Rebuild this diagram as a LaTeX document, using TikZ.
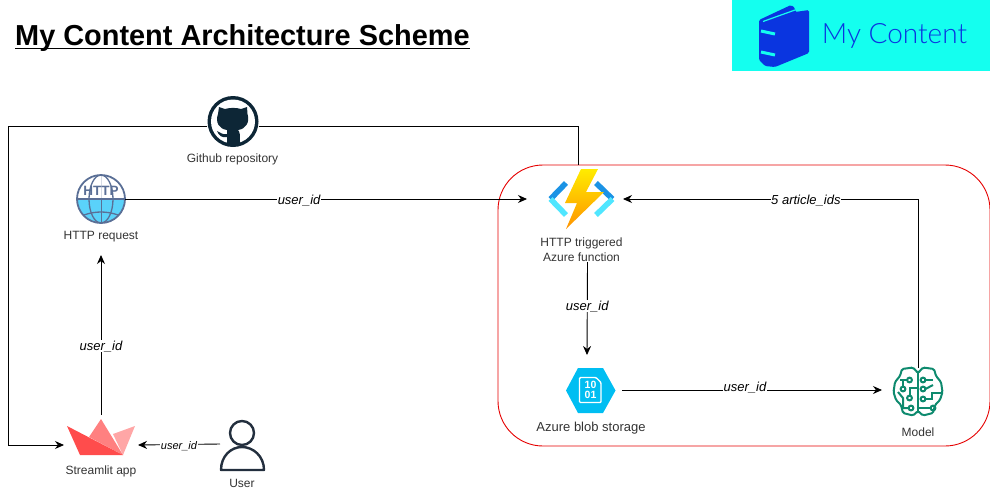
\documentclass[tikz,border=0pt]{standalone}
\usepackage{fontspec}
\setmainfont{Liberation Sans}
\newfontfamily\logofont{Lato Light}
\definecolor{logocyan}{HTML}{14FFEF}
\definecolor{logoblue}{HTML}{0A35E0}
\definecolor{gitnavy}{HTML}{0D2636}
\definecolor{httpslate}{HTML}{5A6F96}
\definecolor{httpsky}{HTML}{5AD2FA}
\definecolor{funcdark}{HTML}{1B93E5}
\definecolor{funclight}{HTML}{50E6FF}
\definecolor{blobblue}{HTML}{00BEF2}
\definecolor{modelteal}{HTML}{0E8A6E}
\definecolor{userink}{HTML}{232F3E}
\definecolor{labelgrey}{HTML}{333333}
\usetikzlibrary{positioning,arrows.meta,calc}

\begin{document}
\begin{tikzpicture}[
  x=1pt, y=-1pt,
  font=\fontsize{12}{14}\selectfont,
  icon/.style={inner sep=0pt, outer sep=0pt},
  lbl/.style={text=labelgrey, align=center, inner sep=0pt, font=\fontsize{12}{15}\selectfont},
  arr/.style={-{Stealth[length=9pt,width=8pt]}, line width=0.9pt, color=black},
  lin/.style={line width=0.9pt, color=black},
  edgelab/.style={font=\fontsize{13}{14}\selectfont\itshape, fill=white, inner sep=0.5pt, yshift=-1.5pt},
]
  \useasboundingbox (0,0) rectangle (990,491);

  % heading and logo
  \node[anchor=base west, inner sep=0pt, font=\fontsize{28.9}{32}\selectfont\bfseries] (title) at (15,45.5) {My Content Architecture Scheme};
  \draw[line width=1.5pt] ([yshift=-2.8pt]title.base west) -- ([yshift=-2.8pt]title.base east);
  \fill[logocyan] (732,0) rectangle (990,71);
  \fill[logoblue, rounded corners=1.5pt] (759,20) -- (791,5) -- (795,8) -- (795,12) -- (809,10) -- (809,53) -- (775,67) -- (765,66) -- (759,60) -- cycle;
  \draw[logocyan, line width=1.2pt] (763,21.5) -- (795,10);
  \draw[logocyan, line width=3pt] (761,31) -- (775,34);
  \draw[logocyan, line width=3pt] (761,52) -- (775,55);
  \node[icon, text=logoblue, font=\fontsize{28}{32}\selectfont\logofont] (logotext) at (894.5,36) {My Content};

  % red group
  \draw[red!90!black, line width=0.9pt, rounded corners=45pt] (498,165) rectangle (990,446);

  % icon nodes
  \node[icon, minimum size=52pt] (github) at (233,121.5) {};
  \node[icon, minimum width=48pt, minimum height=112pt] (http) at (101,199) {};
  \node[icon, minimum width=96pt, minimum height=68pt] (function) at (575,199) {};
  \node[icon, minimum width=62pt, minimum height=70pt] (blob) at (591,390) {};
  \node[icon, minimum width=72pt, minimum height=44pt] (model) at (918,390) {};
  \node[icon, minimum width=74pt, minimum height=60pt] (streamlit) at (101,445) {};
  \node[icon, minimum width=44pt, minimum height=50pt] (user) at (242,444) {};
  \coordinate (gitcorner) at (8,126.5);

  % labels
  \node[lbl] (githublabel) at (232.5,159) {Github repository};
  \node[lbl] (httplabel) at (101,236.5) {HTTP request};
  \node[lbl] (functionlabel) at (581.5,250) {HTTP triggered\\Azure function};
  \node[lbl, font=\fontsize{13}{15}\selectfont] (bloblabel) at (591,428) {Azure blob storage};
  \node[lbl] (modellabel) at (918,432) {Model};
  \node[lbl] (streamlitlabel) at (101,471) {Streamlit app};
  \node[lbl] (userlabel) at (242,483) {User};

  % github
  \fill[gitnavy] (github) circle (25.5);
  \fill[white] (github) circle (22);
  \fill[gitnavy] (219,107) -- (225,109) .. controls (230,107.5) and (236,107.5) .. (241,109) -- (247,107) -- (247.5,114)
    .. controls (250,122) and (246,129) .. (238,130) .. controls (240,132) and (240,134) .. (240,145)
    -- (227,145) -- (227,137) .. controls (222,138) and (219,136) .. (217,131) .. controls (220,132) and (222,135) .. (227,134)
    -- (227,130) .. controls (219,129) and (215,122) .. (218,114) -- cycle;

  % http globe
  \begin{scope}
    \clip (101,199) circle (24);
    \fill[white] (77,175) rectangle (125,199);
    \fill[httpsky] (77,199) rectangle (125,223);
    \draw[httpslate, line width=1.3pt] (101,199) ellipse (12 and 24);
    \draw[httpslate, line width=1.3pt] (84,215) .. controls (95,211) and (107,211) .. (118,215);
    \draw[white!75!httpslate, line width=1pt] (101,175) -- (101,199);
    \fill[httpslate] (77,197.8) rectangle (125,200.2);
    \draw[httpslate, line width=1pt] (101,223) -- (101,199);
  \end{scope}
  \draw[httpslate, line width=1.8pt] (101,199) circle (24);
  \node[icon, text=httpslate, font=\fontsize{13.5}{14}\selectfont\bfseries] (httpword) at (101,190.5) {HTTP};

  % azure function
  \draw[funcdark, line width=5.5pt] (566,183) -- (550.5,199);
  \draw[funclight, line width=5.5pt] (550.5,199) -- (566,215);
  \draw[funcdark, line width=5.5pt] (596,183) -- (612.5,199);
  \draw[funclight, line width=5.5pt] (612.5,199) -- (596,215);
  \shade[top color=yellow!85!orange, bottom color=orange!85!yellow] (581,169) -- (598,169) -- (586,192) -- (604,192) -- (566,229) -- (577,203) -- (565,203) -- cycle;

  % blob storage
  \fill[blobblue] (566,390.5) -- (578,368) -- (603,368) -- (615.5,390.5) -- (603,413) -- (578,413) -- cycle;
  \draw[white, line width=1.4pt, rounded corners=1pt] (579.5,377.5) -- (596,377.5) -- (601,382.5) -- (601,402.5) -- (579.5,402.5) -- cycle;
  \node[icon, text=white, align=center, font=\fontsize{10.5}{10.5}\selectfont\bfseries] (blobbits) at (590.5,390) {10\\01};

  % model
  \begin{scope}[modelteal, line width=2pt]
    \draw[rounded corners=1.5pt] (918,373) -- (913,367.5) -- (902,369) -- (900,376) -- (895,382) -- (893.5,392) -- (896,400) -- (901,405) -- (903,413) -- (913,415.5) -- (918,411)
      -- (923,415.5) -- (933,413) -- (935,405) -- (940,400) -- (942.5,392) -- (941,382) -- (936,376) -- (934,369) -- (923,367.5) -- cycle;
    \draw (918,373) -- (918,411);
    \draw (900,380) -- (907,380);
    \draw (909.5,380) circle (2.4);
    \draw (903,386.5) -- (903,381);
    \draw (903,389) circle (2.4);
    \draw (918,388) -- (910,388) -- (910,395.5);
    \draw (909.5,398) circle (2.4);
    \draw (898,392) -- (903,398) -- (903,408) -- (908.5,408);
    \draw (911,408) circle (2.4);
    \draw (923,380) circle (2.4);
    \draw (925.5,380) -- (933,380);
    \draw (923,389) circle (2.4);
    \draw (925.5,389) -- (933,385);
    \draw (923,399) circle (2.4);
    \draw (925.5,399) -- (932,399) -- (932,393) -- (941,393);
    \draw (918,408) -- (930.5,408);
    \draw (933,408) circle (2.4);
  \end{scope}

  % streamlit
  \fill[red!35!white] (135,426) -- (123,455) -- (113,434) -- cycle;
  \fill[red!50!white] (101,419) -- (123,455) -- (89,437) -- cycle;
  \fill[red!70!white] (67,426) -- (123,455) -- (80,455) -- cycle;

  % user
  \draw[userink, line width=2.4pt] (242,433) circle (12);
  \draw[userink, line width=2.4pt, line join=round] (221,470) .. controls (221,456) and (231,447) .. (242,447) .. controls (253,447) and (264,456) .. (264,470) -- cycle;

  % connectors
  \draw[arr] ([yshift=-5pt]github.west) -- (gitcorner) |- (streamlit.west);
  \draw[lin] (github.east |- gitcorner) -| ([xshift=3pt]function.north);
  \draw[arr] (http.east) -- node[edgelab, pos=0.433]{user\_id} (function.west);
  \draw[arr] (model.north) |- node[edgelab, pos=0.69]{5 article\_ids} (function.east);
  \draw[arr] ([xshift=6pt]functionlabel.south) -- node[edgelab, pos=0.46]{user\_id} ([xshift=-4pt]blob.north);
  \draw[arr] (blob.east) -- node[edgelab, pos=0.473, yshift=4pt]{user\_id} (model.west);
  \draw[arr] (streamlit.north) -- node[edgelab, pos=0.44]{user\_id} (http.south);
  \draw[arr] (user.west) -- node[edgelab, font=\fontsize{11}{12}\selectfont\itshape]{user\_id} (streamlit.east);
\end{tikzpicture}
\end{document}
